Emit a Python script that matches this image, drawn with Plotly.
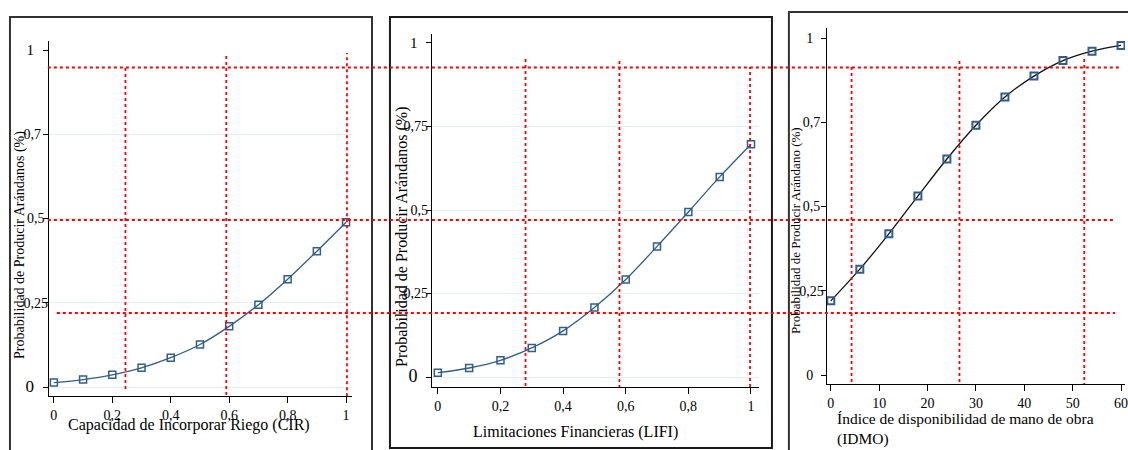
import plotly.graph_objects as go

W, H = 1128, 450

# ---------------- data ----------------
cir_x = [0, 0.1, 0.2, 0.3, 0.4, 0.5, 0.6, 0.7, 0.8, 0.9, 1.0]
cir_y = [0.013, 0.022, 0.036, 0.057, 0.087, 0.126, 0.180, 0.244, 0.320, 0.403, 0.489]

lifi_x = [0, 0.1, 0.2, 0.3, 0.4, 0.5, 0.6, 0.7, 0.8, 0.9, 1.0]
lifi_y = [0.013, 0.027, 0.050, 0.087, 0.138, 0.208, 0.292, 0.391, 0.494, 0.599, 0.697]

idmo_x = [0, 6, 12, 18, 24, 30, 36, 42, 48, 54, 60]
idmo_y = [0.220, 0.314, 0.419, 0.531, 0.641, 0.741, 0.825, 0.887, 0.933, 0.961, 0.978]

# tick values / labels
x01_ticks = [0, 0.2, 0.4, 0.6, 0.8, 1]
x01_labels = ["0", "0,2", "0,4", "0,6", "0,8", "1"]
idmo_ticks = [0, 10, 20, 30, 40, 50, 60]
idmo_labels = ["0", "10", "20", "30", "40", "50", "60"]
y_ticks = [0, 0.25, 0.5, 0.75, 1]
y1_labels = ['<span style="font-size:17px">0</span>\u00a0\u00a0\u00a0\u00a0', "0,25", "0,5\u00a0", "0,7\u00a0\u00a0", '<span style="font-size:15px">1</span>\u00a0\u00a0\u00a0\u00a0']
y2_labels = ['<span style="font-size:18px">0</span>\u00a0\u00a0\u00a0', "0,25", "0,5", "0,75", '<span style="font-size:15px">1</span>\u00a0\u00a0\u00a0']
y3_labels = ["0\u00a0\u00a0\u00a0", "0,25", "0,5\u00a0", "0,7\u00a0", "1\u00a0\u00a0\u00a0"]

# reference (red dotted) lines: vertical x positions with y spans per panel
cir_vx = [0.245, 0.59, 1.003]
cir_vy = [(-0.006, 0.948), (-0.024, 0.985), (-0.045, 0.991)]
lifi_vx = [0.28, 0.58, 0.997]
lifi_vy = [(-0.027, 0.958), (-0.033, 0.952), (-0.03, 0.928)]
idmo_vx = [4.3, 26.6, 52.4]
idmo_vy = [(-0.021, 0.923), (-0.021, 0.935), (-0.033, 0.947)]
# horizontal reference lines (in panel-1 probability units), spanning all panels
h_vals = [0.948, 0.4955, 0.2196]

# ---------------- helpers ----------------
def fx(px):
    return px / W

def fy(py):
    return 1 - py / H

FONT = "Liberation Serif"
BLUE = "#2f5d8c"
RED = "#ff0000"

fig = go.Figure()

fig.add_trace(go.Scatter(x=cir_x, y=cir_y, mode="lines+markers", line=dict(color=BLUE, width=1.3, shape="spline"),
                         marker=dict(symbol="square-open", size=7, color=BLUE, line=dict(width=1.5)),
                         xaxis="x", yaxis="y", showlegend=False))
fig.add_trace(go.Scatter(x=lifi_x, y=lifi_y, mode="lines+markers", line=dict(color=BLUE, width=1.3, shape="spline"),
                         marker=dict(symbol="square-open", size=7, color=BLUE, line=dict(width=1.5)),
                         xaxis="x2", yaxis="y2", showlegend=False))
fig.add_trace(go.Scatter(x=idmo_x, y=idmo_y, mode="lines+markers", line=dict(color="#111111", width=1.3, shape="spline"),
                         marker=dict(symbol="square-open", size=7, color=BLUE, line=dict(width=2)),
                         xaxis="x3", yaxis="y3", showlegend=False))

axis_common = dict(showline=True, linecolor="black", linewidth=1.3, ticks="outside", tickcolor="black",
                   zeroline=False, showgrid=False, tickfont=dict(family=FONT, size=14, color="black"))

grid_minor = dict(tickvals=[0, 0.25, 0.5, 0.75], showgrid=True, gridcolor="#e4edf0", gridwidth=1, ticks="")

fig.update_layout(
    width=W, height=H,
    margin=dict(l=0, r=0, t=0, b=0),
    paper_bgcolor="white", plot_bgcolor="white",
    font=dict(family=FONT, color="black"),
    xaxis=dict(domain=[fx(49), fx(353)], range=[-0.0171, 1.0205], tickvals=x01_ticks, ticktext=x01_labels,
               ticklen=6, anchor="y", **axis_common),
    yaxis=dict(domain=[fy(396), fy(41)], range=[-0.0267, 1.0267], tickvals=y_ticks, ticktext=y1_labels,
               ticklen=5, anchor="x", minor=grid_minor, ticklabelstandoff=-8, **axis_common),
    xaxis2=dict(domain=[fx(433), fx(761)], range=[-0.0191, 1.0255], tickvals=x01_ticks, ticktext=x01_labels,
                ticklen=6, anchor="y2", **axis_common),
    yaxis2=dict(domain=[fy(387), fy(34)], range=[-0.0299, 1.0269], tickvals=y_ticks, ticktext=y2_labels,
                ticklen=5, anchor="x2", minor=grid_minor, ticklabelstandoff=-5, **axis_common),
    xaxis3=dict(domain=[fx(829), 1.0], range=[-0.825, 60.82], tickvals=idmo_ticks, ticktext=idmo_labels,
                ticklen=6, anchor="y3", ticklabeloverflow="allow", **axis_common),
    yaxis3=dict(domain=[fy(384), fy(28)], range=[-0.0267, 1.0297], tickvals=y_ticks, ticktext=y3_labels,
                ticklen=5, anchor="x3", ticklabelstandoff=-6, **axis_common),
)

shapes = []
# panel frames
for (x0, x1, y0, y1, col) in [(10, 373, 17, 470, "#333333"), (391, 774, 17, 448, "#1a1a1a"), (791, 1160, 12, 470, "#333333")]:
    shapes.append(dict(type="rect", xref="paper", yref="paper", x0=fx(x0), x1=fx(x1), y0=fy(y1), y1=fy(y0),
                       line=dict(color=col, width=2), fillcolor="rgba(0,0,0,0)", layer="below"))

dot = dict(color=RED, width=1.8, dash="dot")
for vx, vy, xr, yr in [(cir_vx, cir_vy, "x", "y"), (lifi_vx, lifi_vy, "x2", "y2"), (idmo_vx, idmo_vy, "x3", "y3")]:
    for xv, (ya, yb) in zip(vx, vy):
        shapes.append(dict(type="line", xref=xr, yref=yr, x0=xv, x1=xv, y0=ya, y1=yb, line=dot, layer="above"))

h_spans = [(48, 1122), (48, 1118), (57, 1118)]
for hv, (xa, xb) in zip(h_vals, h_spans):
    shapes.append(dict(type="line", xref="paper", yref="y", x0=fx(xa), x1=fx(xb), y0=hv, y1=hv, line=dot, layer="above"))

fig.update_layout(shapes=shapes)

ann = []
ytitle = "Probabilidad de Producir Arándanos (%)"
ann.append(dict(text=ytitle, x=fx(20), y=fy(245), xref="paper", yref="paper", textangle=-90, showarrow=False,
                font=dict(family=FONT, size=14, color="black"), xanchor="center", yanchor="middle"))
ann.append(dict(text=ytitle, x=fx(403), y=fy(237), xref="paper", yref="paper", textangle=-90, showarrow=False,
                font=dict(family=FONT, size=16, color="black"), xanchor="center", yanchor="middle"))
ann.append(dict(text="Probabilidad de Producir Arándano (%)", x=fx(798), y=fy(230), xref="paper", yref="paper",
                textangle=-90, showarrow=False, font=dict(family=FONT, size=13, color="black"),
                xanchor="center", yanchor="middle"))
ann.append(dict(text="Capacidad de Incorporar Riego (CIR)", x=fx(190), y=fy(425), xref="paper", yref="paper",
                showarrow=False, font=dict(family=FONT, size=16, color="black"), xanchor="center", yanchor="middle"))
ann.append(dict(text="Limitaciones Financieras (LIFI)", x=fx(577), y=fy(432), xref="paper", yref="paper",
                showarrow=False, font=dict(family=FONT, size=16, color="black"), xanchor="center", yanchor="middle"))
ann.append(dict(text="Índice de disponibilidad de mano de obra<br>(IDMO)", x=fx(837), y=fy(429), xref="paper",
                yref="paper", showarrow=False, align="left", font=dict(family=FONT, size=15.5, color="black"),
                xanchor="left", yanchor="middle"))
fig.update_layout(annotations=ann)

fig.write_html("out.html", config={"displayModeBar": False},
               post_script="document.body.style.margin='0';document.body.style.overflow='hidden';")
